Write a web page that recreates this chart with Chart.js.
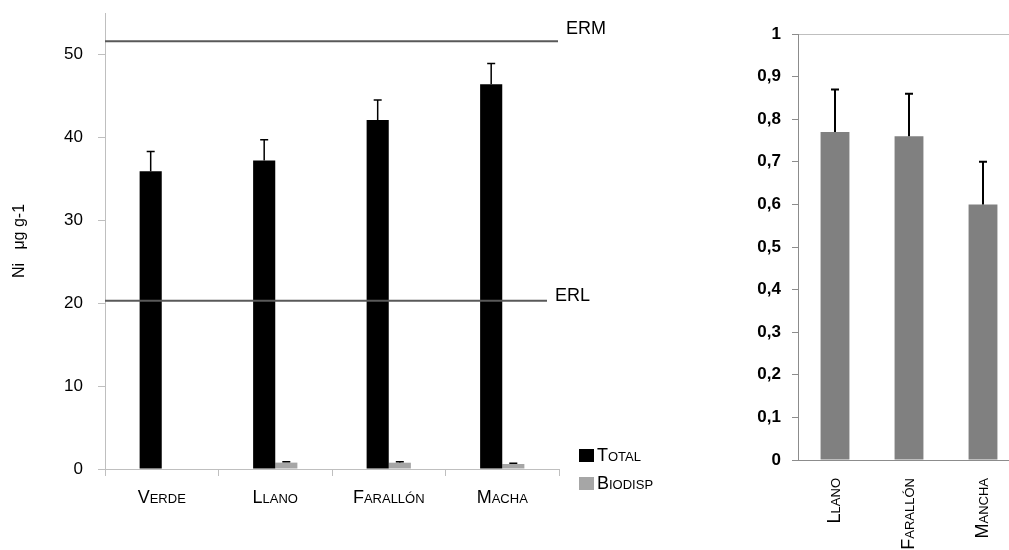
<!DOCTYPE html>
<html>
<head>
<meta charset="utf-8">
<script src="https://cdn.jsdelivr.net/npm/chart.js@4.4.1/dist/chart.umd.min.js"></script>
<style>
  html, body { margin: 0; padding: 0; background: #fff; overflow: hidden; width: 1009px; height: 550px; }
  #left { position: absolute; left: 0; top: 0; }
  #right { position: absolute; left: 700px; top: 0; }
</style>
</head>
<body>
<canvas id="left" width="700" height="550"></canvas>
<canvas id="right" width="320" height="550"></canvas>
<script>
// left chart: Ni total vs biodisponible
const sites = ['Verde', 'Llano', 'Farallón', 'Macha'];
const totalValues = [35.9, 37.2, 42.1, 46.4];
const totalErrors = [2.4, 2.5, 2.4, 2.5];
const biodispValues = [null, 0.77, 0.76, 0.6];
const biodispErrors = [null, 0.1, 0.1, 0.1];
const refLabels = ['ERM', 'ERL'];
const refValues = [51.6, 20.3];
const leftTicks = [0, 10, 20, 30, 40, 50];

// right chart: biodisponible only
const bioSites = ['Llano', 'Farallón', 'Mancha'];
const bioValues = [0.77, 0.76, 0.6];
const bioErrors = [0.1, 0.1, 0.1];
const rightTickValues = [0, 0.1, 0.2, 0.3, 0.4, 0.5, 0.6, 0.7, 0.8, 0.9, 1];
const rightTickLabels = ['0', '0,1', '0,2', '0,3', '0,4', '0,5', '0,6', '0,7', '0,8', '0,9', '1'];

const FONT = "'Liberation Sans', Arial, sans-serif";

const errorBars = {
  id: 'errorBars',
  afterDatasetsDraw(chart, args, opts) {
    const ctx = chart.ctx;
    const y = chart.scales.y;
    chart.data.datasets.forEach((ds, di) => {
      if (!ds.errors) return;
      chart.getDatasetMeta(di).data.forEach((bar, i) => {
        if (ds.data[i] == null || ds.errors[i] == null) return;
        const top = y.getPixelForValue(ds.data[i] + ds.errors[i]);
        ctx.save();
        ctx.strokeStyle = '#000';
        ctx.lineWidth = opts.width || 1.5;
        ctx.beginPath();
        ctx.moveTo(bar.x, bar.y);
        ctx.lineTo(bar.x, top);
        ctx.moveTo(bar.x - (opts.cap || 8) / 2, top);
        ctx.lineTo(bar.x + (opts.cap || 8) / 2, top);
        ctx.stroke();
        ctx.restore();
      });
    });
  }
};

const refLines = {
  id: 'refLines',
  afterDatasetsDraw(chart) {
    const ctx = chart.ctx;
    const area = chart.chartArea;
    const y = chart.scales.y;
    const ends = [area.right - 1, area.right - 12];
    const lift = [12, 5];
    ctx.save();
    refValues.forEach((v, i) => {
      const py = y.getPixelForValue(v);
      ctx.strokeStyle = '#595959';
      ctx.lineWidth = 2;
      ctx.beginPath();
      ctx.moveTo(area.left, py);
      ctx.lineTo(ends[i], py);
      ctx.stroke();
      ctx.fillStyle = '#000';
      ctx.font = '18px ' + FONT;
      ctx.textBaseline = 'middle';
      ctx.textAlign = 'left';
      ctx.fillText(refLabels[i], ends[i] + 8, py - lift[i]);
    });
    ctx.restore();
  }
};

const legendBox = {
  id: 'legendBox',
  afterDraw(chart) {
    const ctx = chart.ctx;
    const area = chart.chartArea;
    ctx.save();
    chart.data.datasets.forEach((ds, i) => {
      const x = area.right + 20;
      const top = area.bottom - 20 + i * 28;
      ctx.fillStyle = ds.backgroundColor;
      ctx.fillRect(x, top, 15, 13);
      ctx.fillStyle = '#000';
      ctx.font = 'small-caps 18px ' + FONT;
      ctx.textBaseline = 'middle';
      ctx.fillText(ds.label, x + 18, top + 7);
    });
    ctx.restore();
  }
};

new Chart(document.getElementById('left'), {
  type: 'bar',
  data: {
    labels: sites,
    datasets: [
      { label: 'Total', data: totalValues, errors: totalErrors, backgroundColor: '#000000' },
      { label: 'Biodisp', data: biodispValues, errors: biodispErrors, backgroundColor: '#a6a6a6' }
    ]
  },
  options: {
    responsive: false,
    animation: false,
    layout: { padding: { left: 0, top: 13, right: 141, bottom: 21 } },
    datasets: { bar: { categoryPercentage: 0.39, barPercentage: 1 } },
    plugins: { legend: { display: false }, tooltip: { enabled: false }, errorBars: { width: 1.5, cap: 8 } },
    scales: {
      x: {
        grid: { offset: true, drawOnChartArea: false, tickLength: 7, color: '#bfbfbf' },
        border: { color: '#bfbfbf' },
        ticks: { font: { family: FONT, size: 18, weight: 'small-caps' }, color: '#000', padding: 11 },
        afterFit(s) { s.height = 60; }
      },
      y: {
        min: 0,
        max: 55,
        afterBuildTicks(s) { s.ticks = leftTicks.map(v => ({ value: v })); },
        grid: { drawOnChartArea: false, tickLength: 7, color: '#bfbfbf' },
        border: { color: '#bfbfbf' },
        ticks: { font: { family: FONT, size: 17 }, color: '#000', padding: 15 },
        title: { display: true, text: 'Ni   μg g-1', font: { family: FONT, size: 16 }, color: '#000', padding: { top: 10, bottom: 0 } },
        afterFit(s) { s.width = 105; s.paddingTop = 0; s.paddingBottom = 0; }
      }
    }
  },
  plugins: [errorBars, refLines, legendBox]
});

new Chart(document.getElementById('right'), {
  type: 'bar',
  data: {
    labels: bioSites,
    datasets: [{ label: 'Biodisp', data: bioValues, errors: bioErrors, backgroundColor: '#808080' }]
  },
  options: {
    responsive: false,
    animation: false,
    layout: { padding: { left: 0, top: 34, right: 0, bottom: 0 } },
    datasets: { bar: { categoryPercentage: 0.39, barPercentage: 1 } },
    plugins: { legend: { display: false }, tooltip: { enabled: false }, errorBars: { width: 2, cap: 8 } },
    scales: {
      x: {
        grid: { display: false },
        border: { color: '#8c8c8c' },
        ticks: { minRotation: 90, maxRotation: 90, font: { family: FONT, size: 18, weight: 'small-caps' }, color: '#000', padding: 10 },
        afterFit(s) { s.height = 90; }
      },
      y: {
        min: 0,
        max: 1,
        afterBuildTicks(s) { s.ticks = rightTickValues.map(v => ({ value: v })); },
        ticks: { callback: (v, i) => rightTickLabels[i], font: { family: FONT, size: 17, weight: 'bold' }, color: '#000', padding: 11 },
        grid: { color: c => (c.tick && c.tick.value === 1 ? '#bfbfbf' : 'rgba(0,0,0,0)'), tickColor: '#8c8c8c', tickLength: 6 },
        border: { color: '#8c8c8c' },
        afterFit(s) { s.width = 98; s.paddingTop = 0; s.paddingBottom = 0; }
      }
    }
  },
  plugins: [errorBars]
});
</script>
</body>
</html>
